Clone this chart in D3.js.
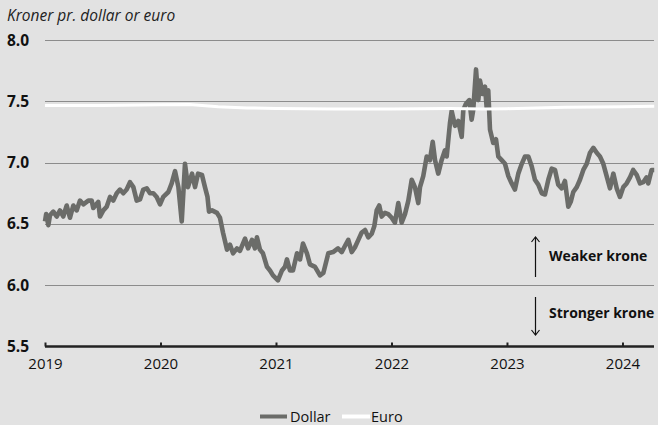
<!DOCTYPE html>
<html><head><meta charset="utf-8">
<script src="https://cdn.jsdelivr.net/npm/d3@7"></script>
<style>
html,body{margin:0;padding:0;background:#e2e2e2;}
svg{display:block;}
</style></head>
<body>
<svg id="chart" width="658" height="425"></svg>
<script>
// ---- data (decimal year, kroner) ----
const dollarT = [2019.000,2019.010,2019.029,2019.043,2019.072,2019.101,2019.130,2019.158,2019.188,2019.216,2019.245,2019.274,2019.303,2019.332,2019.375,2019.404,2019.418,2019.461,2019.476,2019.505,2019.534,2019.563,2019.591,2019.621,2019.649,2019.678,2019.707,2019.736,2019.765,2019.794,2019.823,2019.851,2019.881,2019.909,2019.938,2019.967,2019.996,
2020.024,2020.068,2020.097,2020.126,2020.155,2020.184,2020.212,2020.238,2020.273,2020.299,2020.325,2020.359,2020.385,2020.407,2020.420,2020.446,2020.489,2020.515,2020.541,2020.576,2020.602,2020.628,2020.662,2020.688,2020.732,2020.758,2020.792,2020.818,2020.835,2020.861,2020.887,2020.922,2020.948,2020.974,
2021.017,2021.052,2021.078,2021.095,2021.121,2021.147,2021.182,2021.208,2021.234,2021.268,2021.294,2021.338,2021.381,2021.410,2021.453,2021.494,2021.537,2021.569,2021.597,2021.626,2021.656,2021.684,2021.713,2021.742,2021.771,2021.799,2021.829,2021.851,2021.872,2021.894,2021.915,2021.944,2021.972,
2022.002,2022.030,2022.059,2022.088,2022.117,2022.146,2022.175,2022.203,2022.232,2022.247,2022.275,2022.305,2022.333,2022.357,2022.377,2022.405,2022.434,2022.463,2022.478,2022.506,2022.521,2022.550,2022.578,2022.608,2022.622,2022.645,2022.674,2022.694,2022.708,2022.732,2022.752,2022.766,2022.790,2022.810,2022.824,2022.838,2022.853,2022.881,2022.905,2022.925,2022.954,2022.983,
2023.012,2023.041,2023.069,2023.098,2023.128,2023.156,2023.185,2023.214,2023.242,2023.271,2023.301,2023.329,2023.358,2023.387,2023.416,2023.444,2023.474,2023.502,2023.531,2023.552,2023.574,2023.604,2023.632,2023.661,2023.690,2023.719,2023.748,2023.777,2023.805,2023.834,2023.863,2023.892,2023.921,2023.950,2023.978,
2024.007,2024.036,2024.065,2024.093,2024.123,2024.152,2024.180,2024.209,2024.223,2024.252,2024.275];
const dollarV = [6.52,6.58,6.49,6.57,6.60,6.56,6.61,6.56,6.65,6.55,6.65,6.61,6.69,6.66,6.69,6.69,6.63,6.68,6.56,6.61,6.64,6.72,6.69,6.75,6.78,6.75,6.78,6.84,6.80,6.69,6.70,6.78,6.79,6.75,6.75,6.72,6.66,
6.72,6.76,6.83,6.93,6.80,6.52,6.99,6.80,6.91,6.80,6.91,6.90,6.80,6.72,6.60,6.61,6.59,6.55,6.43,6.29,6.33,6.26,6.30,6.28,6.38,6.30,6.37,6.30,6.39,6.29,6.26,6.15,6.12,6.08,
6.04,6.12,6.15,6.21,6.12,6.12,6.26,6.21,6.34,6.26,6.17,6.15,6.08,6.10,6.26,6.27,6.30,6.27,6.32,6.37,6.27,6.31,6.37,6.43,6.45,6.39,6.42,6.48,6.61,6.65,6.56,6.59,6.58,
6.55,6.51,6.67,6.51,6.58,6.69,6.86,6.80,6.67,6.80,6.89,7.05,7.02,7.17,7.02,6.91,7.02,7.10,7.05,7.32,7.42,7.30,7.34,7.21,7.43,7.48,7.51,7.35,7.43,7.76,7.51,7.67,7.56,7.62,7.45,7.59,7.27,7.16,7.19,7.05,7.02,6.99,
6.89,6.83,6.78,6.91,6.99,7.05,7.05,6.97,6.86,6.82,6.75,6.74,6.86,6.95,6.94,6.82,6.79,6.85,6.64,6.68,6.76,6.80,6.86,6.94,6.99,7.08,7.12,7.08,7.05,6.99,6.89,6.79,6.91,6.79,6.72,
6.80,6.83,6.88,6.94,6.90,6.83,6.84,6.88,6.83,6.94,6.94];

const euroT = [2019.0,2019.5,2020.0,2020.25,2020.5,2020.75,2021.0,2021.5,2022.0,2022.5,2022.8,2023.0,2023.5,2024.0,2024.275];
const euroV = [7.466,7.466,7.472,7.474,7.456,7.446,7.441,7.437,7.438,7.441,7.437,7.440,7.452,7.456,7.459];

const yTicks = [5.5,6.0,6.5,7.0,7.5,8.0];
const xTicks = [2019,2020,2021,2022,2023,2024];
const seriesNames = ["Dollar","Euro"];
const titleText = "Kroner pr. dollar or euro";
const noteUp = "Weaker krone";
const noteDown = "Stronger krone";

// ---- drawing ----
const svg = d3.select("#chart");
const W = 658, H = 425;
svg.append("rect").attr("width",W).attr("height",H).attr("fill","#e2e2e2");

const x = d3.scaleLinear().domain([2019, 2024.273]).range([45, 654]);
const y = d3.scaleLinear().domain([5.5, 8.0]).range([346.5, 40]);
const font = "'Open Sans', sans-serif";

// title
svg.append("text").attr("x",7).attr("y",21).attr("font-family",font)
  .attr("font-style","italic").attr("font-size",15.5).attr("fill","#222").text(titleText);

// gridlines
svg.append("g").selectAll("line").data(yTicks.filter(d=>d>5.5)).join("line")
  .attr("x1",x.range()[0]).attr("x2",x.range()[1])
  .attr("y1",d=>Math.round(y(d))+0.5).attr("y2",d=>Math.round(y(d))+0.5)
  .attr("stroke","#8c8c8c").attr("stroke-width",1);

// y labels
svg.append("g").selectAll("text").data(yTicks).join("text")
  .attr("x",7).attr("y",d=>y(d)+5.5)
  .attr("font-family",font).attr("font-weight","bold").attr("font-size",15.5)
  .attr("fill","#111").text(d=>d3.format(".1f")(d));

// x axis
const xAxis = d3.axisBottom(x).tickValues(xTicks).tickFormat(d3.format("d")).tickSize(-4).tickPadding(12);
const gx = svg.append("g").attr("transform",`translate(0,${y(5.5)})`).call(xAxis);
gx.select(".domain").attr("stroke","#222").attr("stroke-width",2.5).attr("d",`M${x.range()[0]},0H${x.range()[1]}`);
gx.selectAll(".tick line").attr("stroke","#222").attr("stroke-width",2);
gx.selectAll(".tick text").attr("font-family",font).attr("font-size",15).attr("fill","#111");

// lines
const line = d3.line().x(d=>x(d[0])).y(d=>y(d[1]));
const dollar = dollarT.map((t,i)=>[t,dollarV[i]]);
const euro = euroT.map((t,i)=>[t,euroV[i]]);
svg.append("path").datum(dollar).attr("d",line).attr("fill","none")
  .attr("stroke","#6b6c69").attr("stroke-width",4.6).attr("stroke-linejoin","round");
svg.append("path").datum(euro).attr("d",line).attr("fill","none")
  .attr("stroke","#ffffff").attr("stroke-width",3).attr("stroke-linejoin","round");

// annotations
const ax = 535.5;
const ann = svg.append("g").attr("stroke","#111").attr("stroke-width",1.2).attr("fill","none");
ann.append("line").attr("x1",ax).attr("x2",ax).attr("y1",237).attr("y2",277);
ann.append("path").attr("d",`M${ax-4},${242}L${ax},${237}L${ax+4},${242}`);
ann.append("line").attr("x1",ax).attr("x2",ax).attr("y1",297).attr("y2",335);
ann.append("path").attr("d",`M${ax-4},${330}L${ax},${335}L${ax+4},${330}`);
svg.append("text").attr("x",549).attr("y",261).attr("font-family",font).attr("font-weight","bold")
  .attr("font-size",14).attr("fill","#111").text(noteUp);
svg.append("text").attr("x",549).attr("y",318).attr("font-family",font).attr("font-weight","bold")
  .attr("font-size",14).attr("fill","#111").text(noteDown);

// legend
const leg = svg.append("g");
const legItems = [{name:seriesNames[0],color:"#6b6c69",x0:260,x1:287,tx:290},
                  {name:seriesNames[1],color:"#ffffff",x0:342,x1:370,tx:371}];
legItems.forEach(d=>{
  leg.append("line").attr("x1",d.x0).attr("x2",d.x1).attr("y1",416.5).attr("y2",416.5)
    .attr("stroke",d.color).attr("stroke-width",4);
  leg.append("text").attr("x",d.tx).attr("y",421.5).attr("font-family",font).attr("font-size",14.5)
    .attr("fill","#111").text(d.name);
});
</script>
</body></html>
